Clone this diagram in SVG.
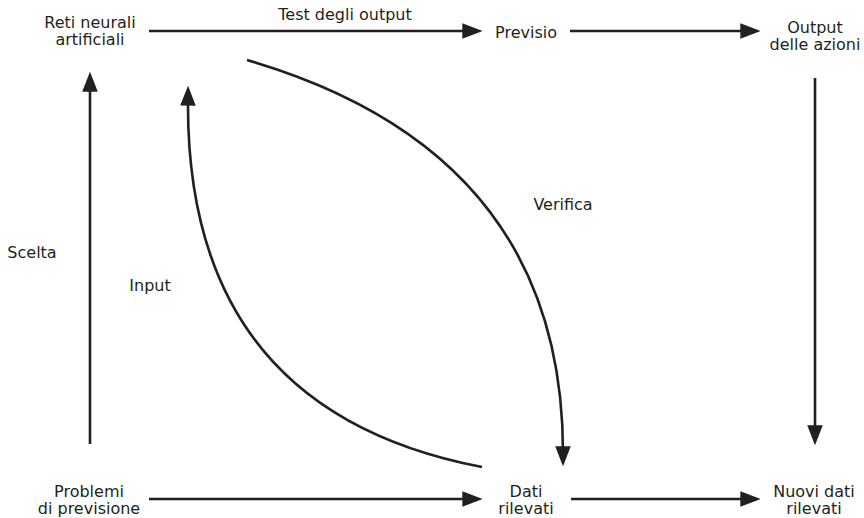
<svg xmlns="http://www.w3.org/2000/svg" width="864" height="518" viewBox="0 0 864 518">
<defs>
<style>
text{font-family:"DejaVu Sans","Liberation Sans",sans-serif;font-size:16px;fill:#231f20;text-anchor:middle}
.c{fill:none;stroke:#231f20;stroke-width:2.6}
</style>
<marker id="ah" markerUnits="userSpaceOnUse" markerWidth="20" markerHeight="16" refX="6" refY="7" orient="auto" viewBox="0 0 18 14">
<path d="M0,0 L18,7 L0,14 Z" fill="#231f20"/>
</marker>
</defs>
<rect width="864" height="518" fill="#fff"/>
<g id="connectors">
<line class="c" x1="149" y1="31" x2="469" y2="31" marker-end="url(#ah)"/>
<line class="c" x1="570" y1="31" x2="747" y2="31" marker-end="url(#ah)"/>
<line class="c" x1="815" y1="78" x2="815" y2="432" marker-end="url(#ah)"/>
<line class="c" x1="149" y1="499" x2="469" y2="499" marker-end="url(#ah)"/>
<line class="c" x1="571" y1="499" x2="747" y2="499" marker-end="url(#ah)"/>
<line class="c" x1="90" y1="444" x2="90" y2="85" marker-end="url(#ah)"/>
<path class="c" d="M482,467 Q185,410 188,99" marker-end="url(#ah)"/>
<path class="c" d="M247,60 Q563,152 563,453" marker-end="url(#ah)"/>
</g>
<g id="labels">
<text x="345" y="20">Test degli output</text>
<text x="32" y="258">Scelta</text>
<text x="150" y="291">Input</text>
<text x="563" y="210">Verifica</text>
</g>
<g id="n-reti"><text x="90" y="28">Reti neurali</text><text x="90" y="45">artificiali</text></g>
<g id="n-previsio"><text x="526" y="38">Previsio</text></g>
<g id="n-output"><text x="815" y="33">Output</text><text x="815" y="50">delle azioni</text></g>
<g id="n-problemi"><text x="89" y="497">Problemi</text><text x="89" y="514">di previsione</text></g>
<g id="n-dati"><text x="526" y="497">Dati</text><text x="526" y="514">rilevati</text></g>
<g id="n-nuovi"><text x="814" y="497">Nuovi dati</text><text x="814" y="514">rilevati</text></g>
</svg>
